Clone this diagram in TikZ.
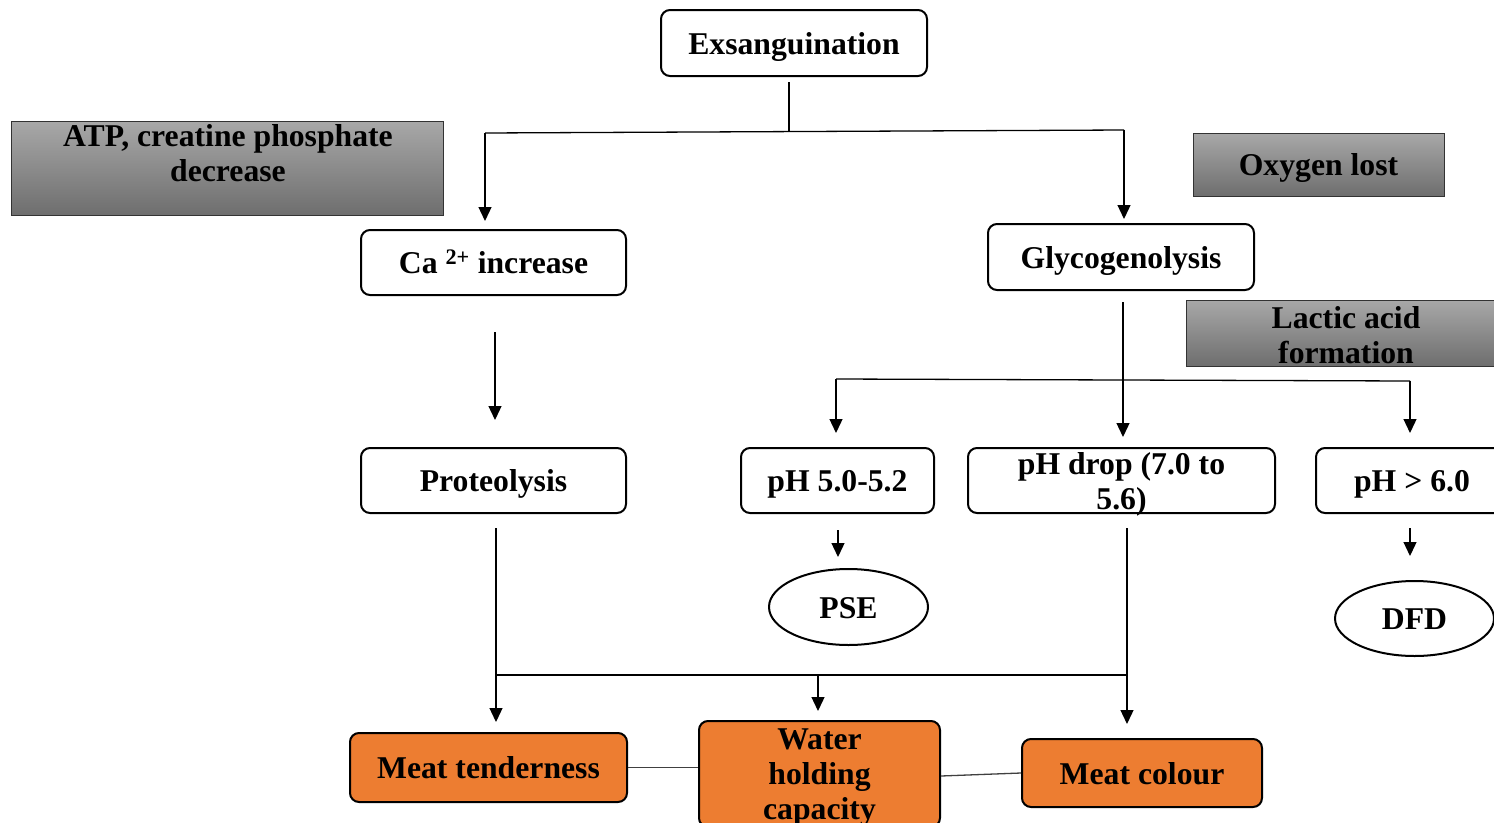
\documentclass[tikz,border=0pt]{standalone}
\usepackage{fontspec}
\setmainfont{Liberation Serif}
\usetikzlibrary{arrows.meta,shapes.geometric}
\definecolor{orng}{RGB}{237,125,49}
\definecolor{gtop}{RGB}{168,168,168}
\definecolor{gbot}{RGB}{110,110,110}
\begin{document}
\begin{tikzpicture}[x=1pt,y=-1pt,
  every node/.style={font=\fontsize{31.7}{35}\selectfont\bfseries, inner sep=0pt, align=center},
  sl/.style={text height=29pt, text depth=7pt},
  wbox/.style={draw, line width=2pt, rounded corners=9pt, fill=white},
  obox/.style={draw, line width=2pt, rounded corners=9pt, fill=orng},
  gbox/.style={draw=black!80, line width=1pt, top color=gtop, bottom color=gbot},
  oval/.style={draw, ellipse, line width=2pt, fill=white},
  conn/.style={line width=1.3pt},
  link/.style={line width=1.3pt, draw=black!75},
  arr/.style={conn, -{Triangle[width=13pt,length=14pt]}}]
\useasboundingbox (0,0) rectangle (1494,822);
\clip (0,0) rectangle (1494,822);
% boxes
\node[wbox, sl, minimum width=266pt, minimum height=66pt] (ex) at (794,43) {Exsanguination};
\node[gbox, minimum width=432pt, minimum height=94pt] (atp) at (227,168) {};
\node (atpt) at (228,153) {ATP, creatine phosphate\\decrease};
\node[gbox, sl, minimum width=251pt, minimum height=63pt] (oxy) at (1318.5,164.5) {Oxygen lost};
\node[wbox, sl, minimum width=265pt, minimum height=65pt] (ca) at (493.5,262.5) {Ca \textsuperscript{2+} increase};
\node[wbox, sl, minimum width=266pt, minimum height=66pt] (gly) at (1121,257) {Glycogenolysis};
\node[gbox, minimum width=320pt, minimum height=66pt] (lac) at (1346,333) {};
\node (lact) at (1346,335.5) {Lactic acid\\formation};
\node[wbox, sl, minimum width=265pt, minimum height=65pt] (pro) at (493.5,480.5) {Proteolysis};
\node[wbox, sl, minimum width=193pt, minimum height=65pt] (ph5) at (837.5,480.5) {pH 5.0-5.2};
\node[wbox, minimum width=307pt, minimum height=65pt] (phd) at (1121.5,480.5) {};
\node (phdt) at (1121.5,484) {pH drop (7.0 to\\5.6)};
\node[wbox, sl, minimum width=192pt, minimum height=65pt] (ph6) at (1412,480.5) {pH > 6.0};
\node[oval, sl, minimum width=159pt, minimum height=76pt] (pse) at (848.5,607) {PSE};
\node[oval, sl, minimum width=159pt, minimum height=75pt] (dfd) at (1414.5,618.5) {DFD};
\node[obox, sl, minimum width=277pt, minimum height=69pt] (mt) at (488.5,767.5) {Meat tenderness};
\node[obox, minimum width=241pt, minimum height=106pt] (whc) at (819.5,774) {};
\node (whct) at (819.5,778) {Water\\holding\\capacity};
\node[obox, sl, minimum width=240pt, minimum height=68pt] (mc) at (1142,773) {Meat colour};
% junction coordinates
\coordinate (e0) at (789,82);
\coordinate (e1) at (789,131.5);
\coordinate (hl) at (485,133);
\coordinate (hr) at (1124,130);
\coordinate (caT) at (485,221);
\coordinate (glT) at (1124,219);
\coordinate (c0) at (495,332);
\coordinate (c1) at (495,420);
\coordinate (g0) at (1123,302);
\coordinate (g1) at (1123,437);
\coordinate (l0) at (836,379);
\coordinate (l1) at (1410,381);
\coordinate (l0b) at (836,433);
\coordinate (l1b) at (1410,433);
\coordinate (p50) at (838,530);
\coordinate (p51) at (838,557);
\coordinate (p60) at (1410,528);
\coordinate (p61) at (1410,556);
\coordinate (pr0) at (496,528);
\coordinate (pr1) at (496,722);
\coordinate (pd0) at (1127,528);
\coordinate (pd1) at (1127,724);
\coordinate (m0) at (496,675);
\coordinate (m1) at (1127,675);
\coordinate (w0) at (818,675);
\coordinate (w1) at (818,711);
% connectors
\draw[conn] (e0) -- (e1);
\draw[conn] (hl) -- (hr);
\draw[arr] (hl) -- (caT);
\draw[arr] (hr) -- (glT);
\draw[arr] (c0) -- (c1);
\draw[arr] (g0) -- (g1);
\draw[conn] (l0) -- (l1);
\draw[arr] (l0) -- (l0b);
\draw[arr] (l1) -- (l1b);
\draw[arr] (p50) -- (p51);
\draw[arr] (p60) -- (p61);
\draw[arr] (pr0) -- (pr1);
\draw[arr] (pd0) -- (pd1);
\draw[conn] (m0) -- (m1);
\draw[arr] (w0) -- (w1);
\draw[link] (mt.east) -- (whc.west |- mt.east);
\draw[link] ([yshift=-2pt]whc.east) -- (mc.west);
\end{tikzpicture}
\end{document}
